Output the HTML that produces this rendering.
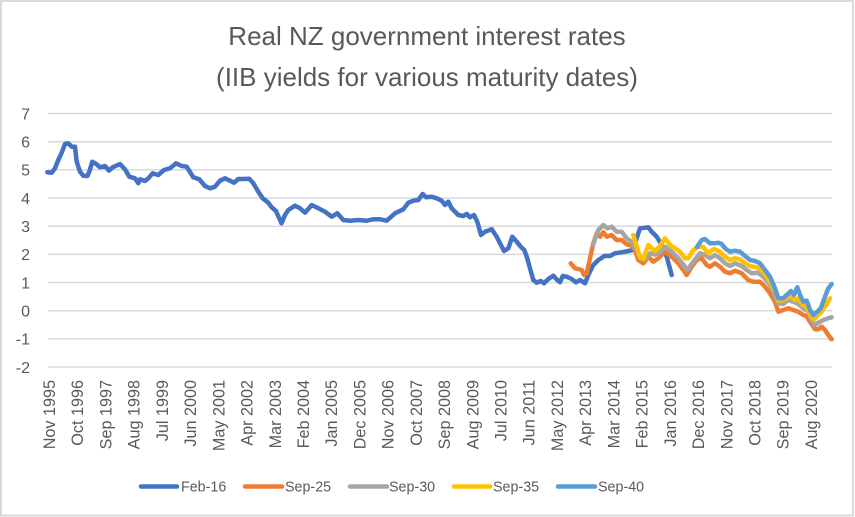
<!DOCTYPE html>
<html><head><meta charset="utf-8"><style>
html,body{margin:0;padding:0;background:#fff;}
svg{display:block;}
text{font-family:"Liberation Sans",Arial,sans-serif;fill:#595959;}
</style></head><body>
<svg width="855" height="517" viewBox="0 0 855 517" xmlns="http://www.w3.org/2000/svg">
<rect x="0" y="0" width="855" height="517" fill="#fff"/>
<rect x="1" y="1" width="852" height="514.5" fill="none" stroke="#d9d9d9" stroke-width="2"/>
<text x="427" y="45" font-size="26" text-anchor="middle">Real NZ government interest rates</text>
<text x="427" y="86" font-size="26" text-anchor="middle">(IIB yields for various maturity dates)</text>
<g stroke="#d9d9d9" stroke-width="1.5">
<line x1="48" x2="832" y1="113.5" y2="113.5"/>
<line x1="48" x2="832" y1="141.7" y2="141.7"/>
<line x1="48" x2="832" y1="169.8" y2="169.8"/>
<line x1="48" x2="832" y1="198" y2="198"/>
<line x1="48" x2="832" y1="226.2" y2="226.2"/>
<line x1="48" x2="832" y1="254.4" y2="254.4"/>
<line x1="48" x2="832" y1="282.5" y2="282.5"/>
<line x1="48" x2="832" y1="310.7" y2="310.7"/>
<line x1="48" x2="832" y1="338.9" y2="338.9"/>
<line x1="48" x2="832" y1="367" y2="367"/>
</g>
<g font-size="16" text-anchor="end">
<text x="30" y="119.3">7</text>
<text x="30" y="147.5">6</text>
<text x="30" y="175.6">5</text>
<text x="30" y="203.8">4</text>
<text x="30" y="232">3</text>
<text x="30" y="260.2">2</text>
<text x="30" y="288.3">1</text>
<text x="30" y="316.5">0</text>
<text x="30" y="344.7">-1</text>
<text x="30" y="372.8">-2</text>
</g>
<g font-size="16.2" text-anchor="end">
<text transform="translate(55,380) rotate(-90)">Nov 1995</text>
<text transform="translate(83.2,380) rotate(-90)">Oct 1996</text>
<text transform="translate(111.4,380) rotate(-90)">Sep 1997</text>
<text transform="translate(139.7,380) rotate(-90)">Aug 1998</text>
<text transform="translate(167.9,380) rotate(-90)">Jul 1999</text>
<text transform="translate(196.1,380) rotate(-90)">Jun 2000</text>
<text transform="translate(224.3,380) rotate(-90)">May 2001</text>
<text transform="translate(252.5,380) rotate(-90)">Apr 2002</text>
<text transform="translate(280.8,380) rotate(-90)">Mar 2003</text>
<text transform="translate(309,380) rotate(-90)">Feb 2004</text>
<text transform="translate(337.2,380) rotate(-90)">Jan 2005</text>
<text transform="translate(365.4,380) rotate(-90)">Dec 2005</text>
<text transform="translate(393.6,380) rotate(-90)">Nov 2006</text>
<text transform="translate(421.9,380) rotate(-90)">Oct 2007</text>
<text transform="translate(450.1,380) rotate(-90)">Sep 2008</text>
<text transform="translate(478.3,380) rotate(-90)">Aug 2009</text>
<text transform="translate(506.5,380) rotate(-90)">Jul 2010</text>
<text transform="translate(534.7,380) rotate(-90)">Jun 2011</text>
<text transform="translate(563,380) rotate(-90)">May 2012</text>
<text transform="translate(591.2,380) rotate(-90)">Apr 2013</text>
<text transform="translate(619.4,380) rotate(-90)">Mar 2014</text>
<text transform="translate(647.6,380) rotate(-90)">Feb 2015</text>
<text transform="translate(675.8,380) rotate(-90)">Jan 2016</text>
<text transform="translate(704.1,380) rotate(-90)">Dec 2016</text>
<text transform="translate(732.3,380) rotate(-90)">Nov 2017</text>
<text transform="translate(760.5,380) rotate(-90)">Oct 2018</text>
<text transform="translate(788.7,380) rotate(-90)">Sep 2019</text>
<text transform="translate(817,380) rotate(-90)">Aug 2020</text>
</g>
<g fill="none" stroke-width="4.5" stroke-linejoin="round" stroke-linecap="round">
<polyline stroke="#4472C4" points="47.3,172.3 51.7,172.7 55,168.3 58.3,160 61.7,152.7 65,144 68.3,143.3 71.7,146.7 75,146.7 76.7,161.7 80,171.7 83.3,175.7 87.3,176 89.3,171.7 92.3,161.7 96.7,164.3 100,167.3 105,166 109,170.7 112.7,167.3 120,164 125,169.3 129.3,176.7 135,178.3 138.3,183.3 140,179.3 145,181 148.3,178.3 152.7,173.3 158.3,175 164,170 170,168.3 176,163.3 181.7,166 186.7,166.7 193.3,177.3 199.3,179.3 205,186 210,188.3 215,186.7 220,180.7 225,178.3 230,180.7 234,182.7 238.3,179 243.3,179 249.3,178.7 253.3,183.3 258.3,191.7 262.7,198.3 268.3,202.7 271.7,207.3 276,211 277.7,215 281.5,223.3 285,215 288.3,210 295,205.7 300,208.3 305,212.7 311.7,205 318.3,208.3 325,211.7 331.7,216.7 337.3,213.3 343.3,220 350,220.7 358.3,220 366.7,220.7 373.3,219.3 380,219.3 386.7,220.7 395,213.3 403.3,209.3 408.3,202.7 413.3,200.7 418.3,200 422.7,194 426,197.3 431.7,196.7 436.7,198.3 441.7,200.7 445,205 448.3,201.7 451.7,208.3 458.3,215 463.3,216 466.7,214 470,217.3 474,215 477.3,221.7 481,235 485,231.7 491.7,229.3 496.7,236.7 500,243.3 504,251 508.3,248.3 512.3,236.7 516.7,241.7 520.7,246.7 524.3,250 527.3,258.3 530,268.3 533.3,280 536.7,282.7 540.7,281 544,283.3 548.3,279 553.3,275.7 557.3,280 560,282.3 562.7,276 566.7,276.7 571.7,279 576,282.3 580,280 585,283.3 588.3,275 593.3,265 598.3,260 605,255.7 610,256 615,253.3 621.7,252.3 628.3,251 633.3,250 636.7,238.3 640,228.3 645,227.7 648.3,227.3 651.7,231.7 656.7,236.7 661.7,245 666.7,256.7 671.7,275"/>
<polyline stroke="#ED7D31" points="570.7,263.3 575,268.3 578.3,269 581.7,270 584,275 586.7,273.3 590,258.3 593.3,243.3 596.7,233.3 600,236.7 603.3,232.3 606.7,236.7 611.7,235 616.7,240 621.7,240 626.7,244.3 631.7,245.7 635,250 638.3,260 643.3,263.3 648.3,256.7 653.3,261.7 658.3,258.3 665,251.7 671.7,256.7 678.3,263.3 683.3,270 686.7,275 691.7,266.7 696.7,260 701.7,258.3 706.7,265 710,266.7 715,263.3 720,266.7 725,271.7 730,273.3 735,270.7 741.7,273.3 748.3,280 753.3,281.7 760,281.7 765,286.7 770,293.3 775,301.7 778.3,311.7 783.3,310 788.3,308.3 793.3,310 798.3,311.7 803.3,315 806.7,316 810,321.7 815,329.3 818.3,329.3 821.7,326.7 825,330 828.3,335 831.7,339.3"/>
<polyline stroke="#A5A5A5" points="593,245 598.3,230 603.3,225 607.3,228.3 611.7,226.7 616.7,231.7 621.7,231.7 626.7,238.3 631.7,241.7 635,246.7 640,258 645,259 650,253.3 655,254.5 660,252.3 665,246.7 671.7,251.7 678.3,258.3 685,266.7 687.3,270 693.3,261.7 700,253.3 705,255 710,258.3 715,255 720,258.3 725,263.3 730,266 735,263.3 741.7,266 746.7,270 751.7,273.3 758.3,272.7 763.3,276.7 770,285 775,295 778.3,303.3 783.3,304 788.3,300 793.3,301.7 798.3,304 803.3,308.3 808.3,311.7 811.7,320 815,325 818.3,322.7 823.3,320 828.3,318.3 831.7,317.3"/>
<polyline stroke="#FFC000" points="633.3,235 636.7,246 640,257.5 643.3,259 648.3,245 651.7,248.3 655,251 660,246 665,238.3 670,245 675,248.3 680,251.7 685,258.3 688.3,258.3 693.3,250 698.3,246.7 703,246.7 708,253 714,249 720,251.7 725,256.7 730,260 735,258.3 740,259.3 745,263.3 750,266 756.7,267.3 761.7,270 766.7,276.7 771.7,285 776.7,293.3 778.3,300.7 783.3,300 788.3,296.7 791.7,296 795,300 798.3,298.3 802.7,305 806.7,306.7 810,315 814,319.3 818.3,315 821.7,311.7 826,305 830,298.3"/>
<polyline stroke="#5B9BD5" points="697,247 701.7,240 705,239 710,243.3 715,243.3 718.3,242.7 721.7,244 725,248.3 730,251.7 735,250.7 740,251.7 745,256 750,260 755,261 760,263.3 765,270 770,276.7 775,288.3 778.3,298.3 783.3,298.3 786.7,295 791,291 794,295 797.3,287.3 800,295 803.3,301.7 806.7,300.7 810,310 813.3,315 817.3,311.7 820.7,308.3 825,296.7 828.3,288.3 831.7,284"/>
</g>
<g stroke-width="4.5" stroke-linecap="round">
<line x1="141" x2="177" y1="486.5" y2="486.5" stroke="#4472C4"/>
<line x1="245" x2="282" y1="486.5" y2="486.5" stroke="#ED7D31"/>
<line x1="350" x2="387" y1="486.5" y2="486.5" stroke="#A5A5A5"/>
<line x1="454" x2="490" y1="486.5" y2="486.5" stroke="#FFC000"/>
<line x1="558" x2="595" y1="486.5" y2="486.5" stroke="#5B9BD5"/>
</g>
<g font-size="14.3">
<text x="181" y="491.6">Feb-16</text>
<text x="285" y="491.6">Sep-25</text>
<text x="389" y="491.6">Sep-30</text>
<text x="493" y="491.6">Sep-35</text>
<text x="598" y="491.6">Sep-40</text>
</g>
</svg>
</body></html>
